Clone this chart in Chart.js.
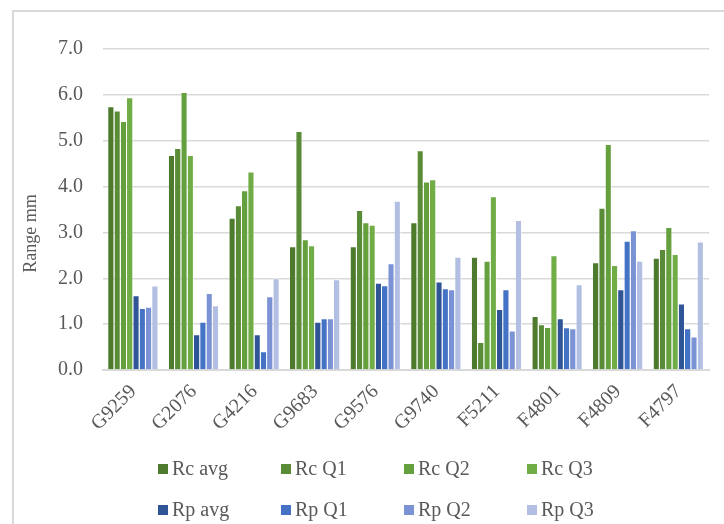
<!DOCTYPE html>
<html>
<head>
<meta charset="utf-8">
<script src="https://cdn.jsdelivr.net/npm/chart.js@4.4.1/dist/chart.umd.min.js"></script>
<style>
html,body{margin:0;padding:0;background:#fff;}
#wrap{position:relative;width:724px;height:524px;overflow:hidden;background:#fff;}
#frame{position:absolute;left:12px;top:10px;width:800px;height:600px;border-left:2px solid #d9d9d9;border-top:2px solid #d9d9d9;box-sizing:border-box;}
#c{position:absolute;left:0;top:0;}
.li{position:absolute;height:24px;line-height:24px;font-family:'Liberation Serif','Times New Roman',serif;font-size:20px;color:#595959;white-space:nowrap;}
.li i{display:inline-block;width:10px;height:10px;margin-right:4px;vertical-align:1px;}
</style>
</head>
<body>
<div id="wrap">
<div id="frame"></div>
<canvas id="c" width="724" height="524"></canvas>
<div id="legend"></div>
</div>
<script>
const categories = ['G9259','G2076','G4216','G9683','G9576','G9740','F5211','F4801','F4809','F4797'];
const rcAvg = [5.75,4.69,3.32,2.70,2.70,3.22,2.47,1.18,2.35,2.45];
const rcQ1  = [5.66,4.84,3.59,5.21,3.49,4.79,0.61,1.00,3.54,2.64];
const rcQ2  = [5.43,6.06,3.92,2.85,3.22,4.11,2.38,0.94,4.93,3.12];
const rcQ3  = [5.95,4.69,4.33,2.72,3.17,4.16,3.79,2.50,2.29,2.53];
const rpAvg = [1.63,0.78,0.78,1.05,1.90,1.93,1.33,1.13,1.76,1.45];
const rpQ1  = [1.35,1.05,0.41,1.13,1.85,1.78,1.76,0.93,2.82,0.91];
const rpQ2  = [1.38,1.68,1.61,1.13,2.33,1.76,0.86,0.91,3.05,0.73];
const rpQ3  = [1.84,1.41,2.00,1.98,3.69,2.47,3.27,1.87,2.38,2.80];
const seriesLabels = ['Rc avg','Rc Q1','Rc Q2','Rc Q3','Rp avg','Rp Q1','Rp Q2','Rp Q3'];
const seriesData = [rcAvg,rcQ1,rcQ2,rcQ3,rpAvg,rpQ1,rpQ2,rpQ3];
const seriesColors = ['#4e7a2e','#5a8c37','#64a03e','#70ad47','#2f5597','#4472c4','#7b93d4','#b2bfe3'];
const yMin = 0, yMax = 7, yStep = 1;
const yTitle = 'Range mm';

const FONT = "'Liberation Serif','Times New Roman',serif";
const TXT = '#595959';

const datasets = seriesLabels.map((lab,i)=>({
  label: lab,
  data: seriesData[i],
  backgroundColor: seriesColors[i],
  borderColor: 'rgba(255,255,255,0.7)',
  borderWidth: { top: 1, right: 1, left: 0, bottom: 0 },
  borderSkipped: false,
  categoryPercentage: 0.83,
  barPercentage: 1.0
}));

const yTitlePlugin = {
  id: 'yTitle',
  afterDraw(chart) {
    const ctx = chart.ctx;
    const area = chart.chartArea;
    ctx.save();
    ctx.fillStyle = TXT;
    ctx.font = '18px ' + FONT;
    ctx.textAlign = 'center';
    ctx.textBaseline = 'middle';
    ctx.translate(31, area.top + (area.bottom - area.top) * 0.575);
    ctx.rotate(-Math.PI / 2);
    ctx.fillText(yTitle, 0, 0);
    ctx.restore();
  }
};

const chart = new Chart(document.getElementById('c'), {
  type: 'bar',
  data: { labels: categories, datasets },
  plugins: [yTitlePlugin],
  options: {
    responsive: false,
    animation: false,
    devicePixelRatio: 1,
    layout: { padding: { left: 13, right: 15, top: 49, bottom: 84 } },
    plugins: { legend: { display: false }, tooltip: { enabled: false } },
    scales: {
      x: {
        grid: { display: false },
        border: { display: true, color: '#d9d9d9', width: 2 },
        ticks: { color: TXT, font: { family: FONT, size: 20 }, minRotation: 45, maxRotation: 45, padding: 2, autoSkip: false },
        afterFit: s => { s.height = 70; }
      },
      y: {
        min: yMin, max: yMax,
        grid: { color: '#d9d9d9', lineWidth: 1.5, drawTicks: false },
        border: { display: false },
        ticks: { stepSize: yStep, color: TXT, font: { family: FONT, size: 20 }, padding: 20, callback: v => Number(v).toFixed(1) },
        afterFit: s => { s.width = 90; }
      }
    }
  }
});

const legend = document.getElementById('legend');
chart.data.datasets.forEach((ds, i) => {
  const col = i % 4, row = Math.floor(i / 4);
  const d = document.createElement('div');
  d.className = 'li';
  d.style.left = (158 + col * 123) + 'px';
  d.style.top = (456 + row * 41) + 'px';
  d.innerHTML = '<i style="background:' + ds.backgroundColor + '"></i>' + ds.label;
  legend.appendChild(d);
});
</script>
</body>
</html>
